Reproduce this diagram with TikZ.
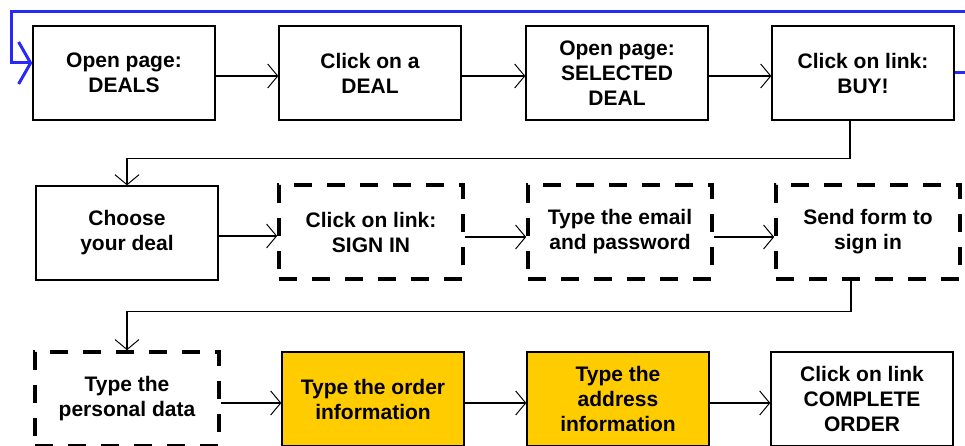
\documentclass[tikz,border=0pt]{standalone}
\usepackage{fontspec}
\setmainfont{Liberation Sans}
\usetikzlibrary{arrows.meta}
\definecolor{orderyellow}{RGB}{255,204,0}
\definecolor{loopblue}{RGB}{40,40,250}

\begin{document}
\begin{tikzpicture}[x=1pt,y=-1pt,
	pagebox/.style={draw,line width=1.3pt,minimum width=182pt,minimum height=94pt,inner sep=0pt,align=center,font=\fontsize{21}{25}\selectfont\bfseries},
	optbox/.style={pagebox,minimum width=184pt,dash pattern=on 18pt off 15pt,line width=3.6pt},
	formbox/.style={pagebox,fill=orderyellow},
	conn/.style={line width=1.3pt,-{Straight Barb[length=10pt,width=24pt,line width=1pt]}},
	back/.style={loopblue,line width=3pt,-{Straight Barb[length=12pt,width=42pt,line width=3pt]}}]
	\useasboundingbox (0,0) rectangle (965,446);

	\node[pagebox] (deals) at (124,73) {Open page:\\DEALS};
	\node[pagebox] (clickdeal) at (370,73) {Click on a\\DEAL};
	\node[pagebox] (selected) at (617,73) {Open page:\\SELECTED\\DEAL};
	\node[pagebox] (buy) at (863,73) {Click on link:\\BUY!};

	\node[pagebox] (choose) at (127,233) {Choose\\your deal};
	\node[optbox] (signin) at (371,232) {Click on link:\\SIGN IN};
	\node[optbox] (email) at (620,232) {Type the email\\and password};
	\node[optbox] (sendform) at (868,232) {Send form to\\sign in};

	\node[optbox] (personal) at (127,399) {Type the\\personal data};
	\node[formbox] (order) at (373,399) {Type the order\\information};
	\node[formbox] (address) at (618,399) {Type the\\address\\information};
	\node[pagebox] (complete) at (862,399) {Click on link\\COMPLETE\\ORDER};

	\draw[conn] ([yshift=-3pt]deals.east) -- ([yshift=-3pt]clickdeal.west);
	\draw[conn] ([yshift=-3pt]clickdeal.east) -- ([yshift=-3pt]selected.west);
	\draw[conn] ([yshift=-3pt]selected.east) -- ([yshift=-3pt]buy.west);
	\draw[back] (buy.east) -- ++(22,0) |- (11,12) |- ([yshift=10pt]deals.west);
	\draw[conn] ([xshift=-13pt]buy.south) -- ++(0,38) -| (choose.north);

	\draw[conn] ([yshift=-4pt]signin.west -| choose.east) -- ([yshift=-4pt]signin.west);
	\draw[conn] ([yshift=-5pt]signin.east) -- ([yshift=-5pt]email.west);
	\draw[conn] ([yshift=-5pt]email.east) -- ([yshift=-5pt]sendform.west);
	\draw[conn] ([xshift=-17pt]sendform.south) -- ++(0,31) -| (personal.north);

	\draw[conn] ([yshift=-4pt]personal.east) -- ([yshift=-4pt]order.west);
	\draw[conn] ([yshift=-4pt]order.east) -- ([yshift=-4pt]address.west);
	\draw[conn] ([yshift=-4pt]address.east) -- ([yshift=-4pt]complete.west);
\end{tikzpicture}
\end{document}
